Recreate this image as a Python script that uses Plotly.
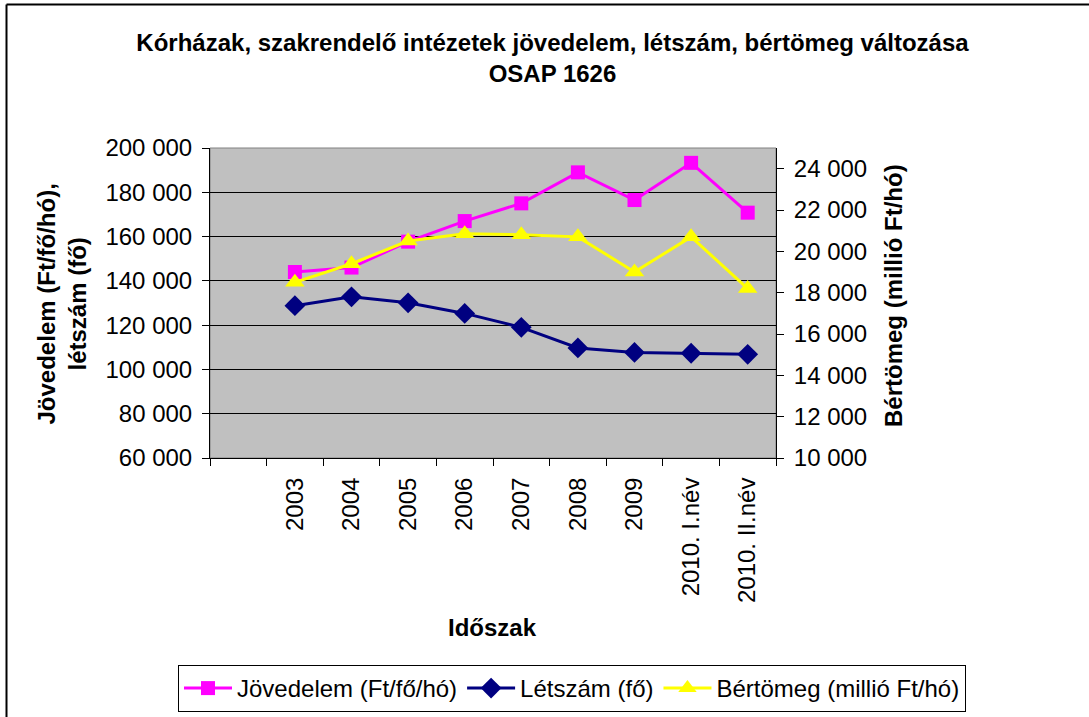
import plotly.graph_objects as go

# ---- data ----
categories = [" ", "2003", "2004", "2005", "2006", "2007", "2008", "2009",
              "2010. I.név", "2010. II.név"]
periods = categories[1:]
jovedelem = [144000, 146000, 157700, 167000, 175000, 189000, 176500, 193300, 170800]
letszam = [128800, 132800, 130100, 125300, 119000, 109700, 107700, 107300, 106800]
bertomeg = [18500, 19400, 20500, 20850, 20800, 20700, 19000, 20700, 18200]

title_text = "Kórházak, szakrendelő intézetek jövedelem, létszám, bértömeg változása<br>OSAP 1626"

W, H = 1089, 717
L, R, T, B = 210, 313, 148, 259
PW, PH = W - L - R, H - T - B


def px_x(p):
    return (p - L) / PW


def px_y(p):
    return 1 - (p - T) / PH


FONT = "Liberation Sans, Arial, sans-serif"
FS = 24

fig = go.Figure()
fig.add_trace(go.Scatter(
    x=periods, y=jovedelem, name="Jövedelem (Ft/fő/hó)", mode="lines+markers",
    line=dict(color="#FF00FF", width=3),
    marker=dict(symbol="square", size=14, color="#FF00FF"),
))
fig.add_trace(go.Scatter(
    x=periods, y=letszam, name="Létszám (fő)", mode="lines+markers",
    line=dict(color="#000080", width=3),
    marker=dict(symbol="diamond", size=16, color="#000080"),
))
fig.add_trace(go.Scatter(
    x=periods, y=bertomeg, name="Bértömeg (millió Ft/hó)", mode="lines+markers",
    yaxis="y2",
    line=dict(color="#FFFF00", width=3),
    marker=dict(symbol="triangle-up", size=17, color="#FFFF00"),
))

fig.update_layout(
    width=W, height=H,
    margin=dict(l=L, r=R, t=T, b=B, autoexpand=False),
    paper_bgcolor="white",
    plot_bgcolor="#C0C0C0",
    separators=", ",
    font=dict(family=FONT, size=FS, color="black"),
    title=dict(text=title_text, x=552.5 / W, xref="container", xanchor="center",
               y=1 - 51 / H, yref="container", yanchor="middle",
               font=dict(family=FONT, size=FS, color="black", weight="bold")),
    showlegend=True,
    legend=dict(orientation="h", xref="paper", yref="paper",
                xanchor="right", x=px_x(966),
                yanchor="top", y=px_y(665), bgcolor="white",
                bordercolor="black", borderwidth=1,
                font=dict(family=FONT, size=FS, color="black"),
                tracegroupgap=0, itemwidth=48),
    xaxis=dict(type="category", categoryorder="array", categoryarray=categories,
               range=[-0.5, len(categories) - 0.5], tickson="boundaries",
               ticks="outside", ticklen=7, tickcolor="black", tickwidth=1,
               tickangle=-90, showgrid=False, showline=True, linecolor="black",
               linewidth=1, zeroline=False, ticklabelstandoff=9, automargin=False,
               tickfont=dict(family=FONT, size=FS, color="black")),
    yaxis=dict(range=[60000, 200000], dtick=20000, tick0=0, tickformat=",d",
               showgrid=True, gridcolor="black", gridwidth=1,
               showline=True, linecolor="black", linewidth=1,
               ticks="outside", ticklen=7, tickcolor="black",
               zeroline=False, ticklabelstandoff=5, automargin=False,
               tickfont=dict(family=FONT, size=FS, color="black")),
    yaxis2=dict(range=[10000, 25000], dtick=2000, tick0=10000, tickformat=",d",
                overlaying="y", side="right", showgrid=False,
                showline=True, linecolor="black", linewidth=1,
                ticks="outside", ticklen=7, tickcolor="black",
                zeroline=False, ticklabelstandoff=5, automargin=False,
                tickfont=dict(family=FONT, size=FS, color="black")),
    annotations=[
        dict(text="Jövedelem (Ft/fő/hó),<br>létszám (fő)", textangle=-90,
             xref="paper", yref="paper", x=px_x(61.5), y=px_y(304),
             xanchor="center", yanchor="middle", showarrow=False,
             font=dict(family=FONT, size=FS, color="black", weight="bold")),
        dict(text="Bértömeg (millió Ft/hó)", textangle=-90,
             xref="paper", yref="paper", x=px_x(893), y=px_y(296),
             xanchor="center", yanchor="middle", showarrow=False,
             font=dict(family=FONT, size=FS, color="black", weight="bold")),
        dict(text="Időszak", xref="paper", yref="paper",
             x=px_x(492), y=px_y(627), xanchor="center", yanchor="middle",
             showarrow=False,
             font=dict(family=FONT, size=FS, color="black", weight="bold")),
    ],
    shapes=[
        dict(type="rect", xref="paper", yref="paper", x0=0, x1=1, y0=0, y1=1,
             line=dict(color="#808080", width=1), layer="below"),
        dict(type="line", xref="paper", yref="paper",
             x0=px_x(6.5), x1=px_x(1100), y0=px_y(4.5), y1=px_y(4.5),
             line=dict(color="black", width=2)),
        dict(type="line", xref="paper", yref="paper",
             x0=px_x(6.5), x1=px_x(6.5), y0=px_y(4.5), y1=px_y(730),
             line=dict(color="black", width=2)),
    ],
)

fig.write_html("out.html", config={"displayModeBar": False},
               post_script="document.body.style.margin='0px';")
